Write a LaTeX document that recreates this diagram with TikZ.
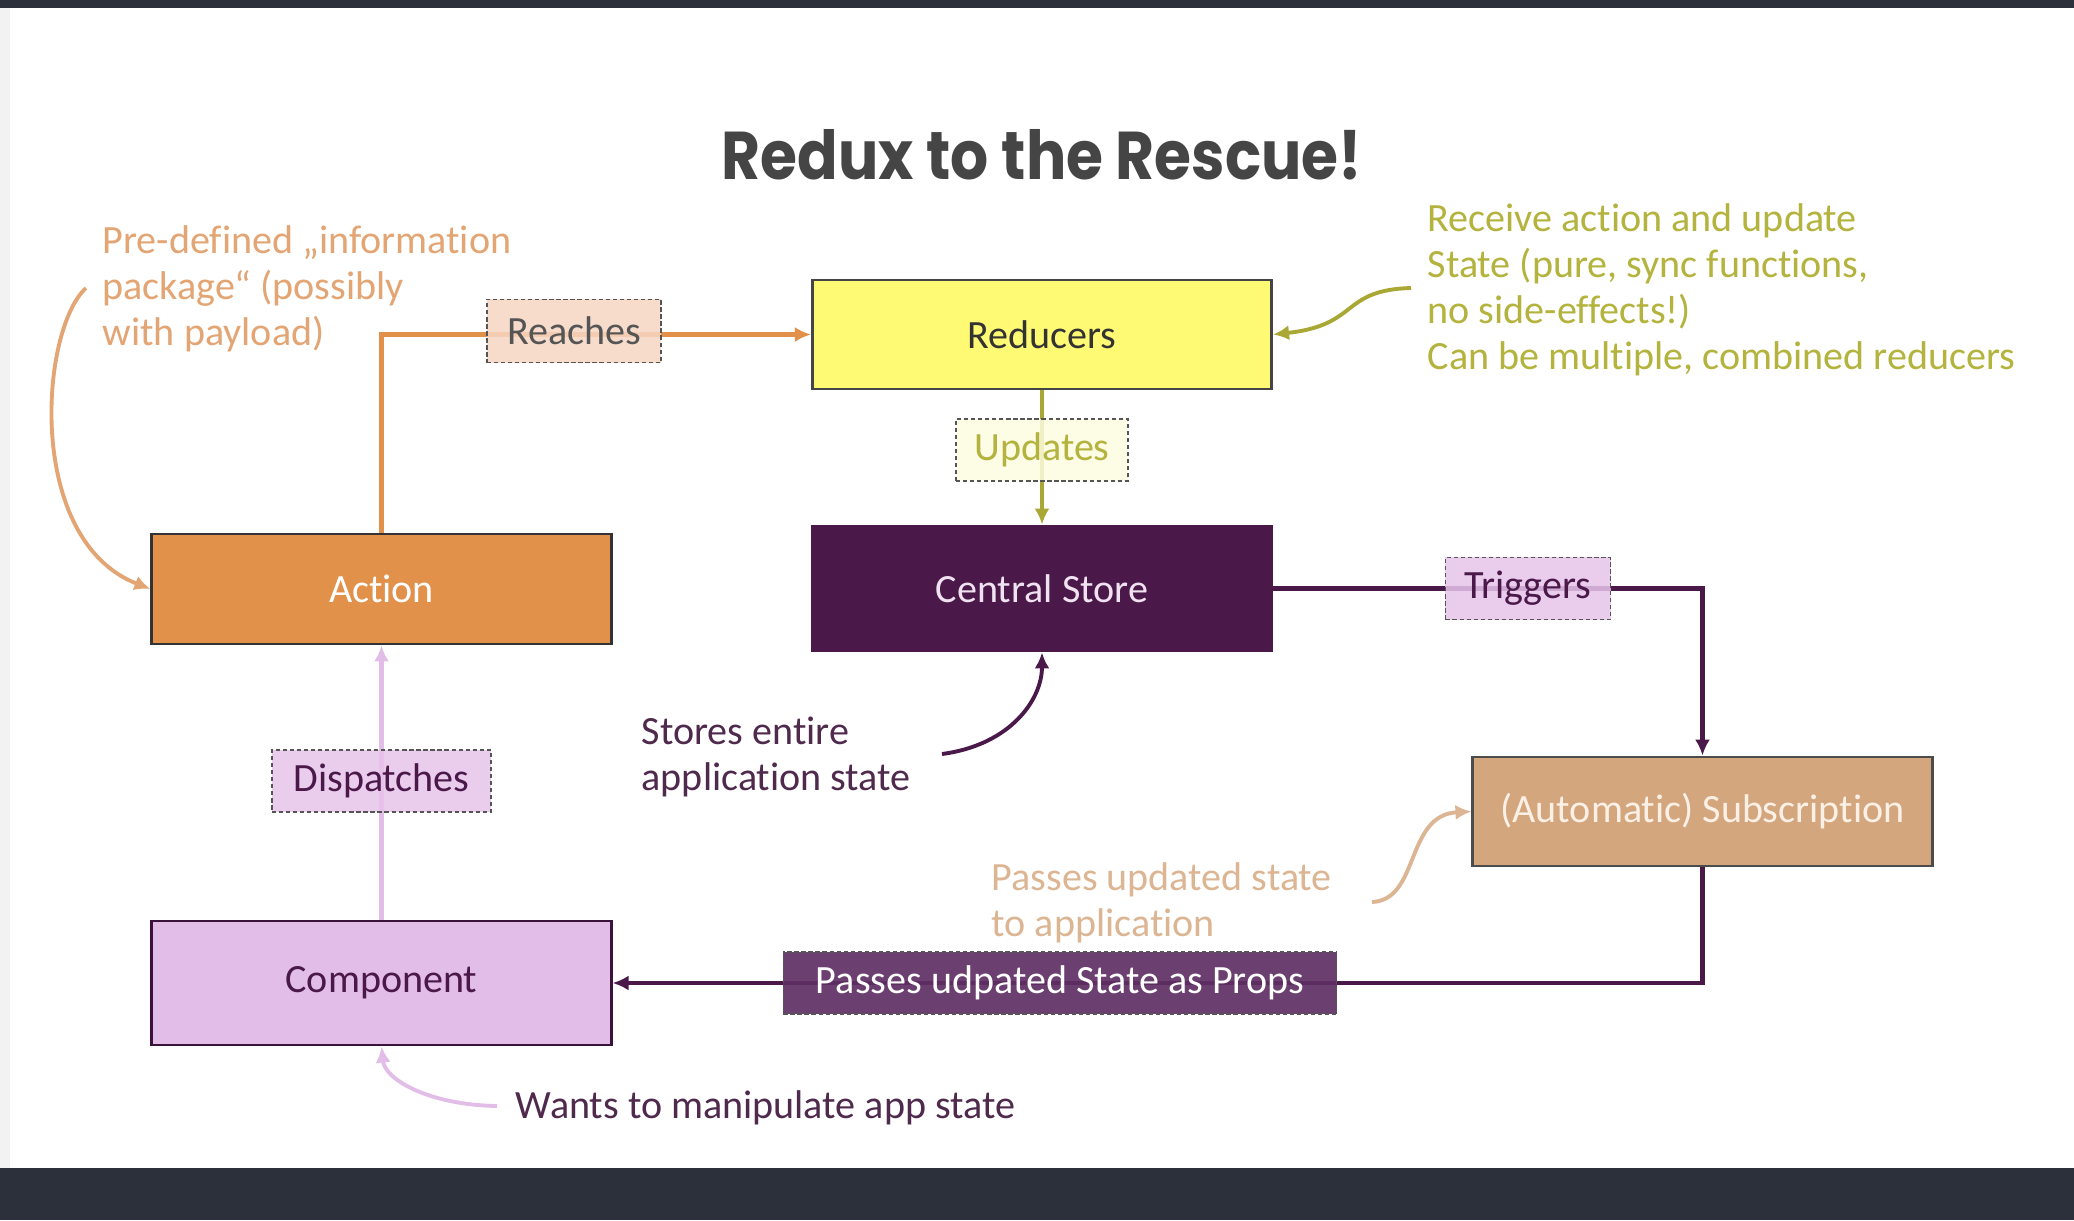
\documentclass[tikz,border=0pt]{standalone}
\usepackage{fontspec}
\setmainfont{Carlito}[Ligatures={NoCommon,NoRequired}]
\newfontfamily\titlefont{Poppins}
\usetikzlibrary{arrows.meta}
\definecolor{barC}{HTML}{2B303A}
\definecolor{stripC}{HTML}{F2F2F3}
\definecolor{titleC}{HTML}{454545}
\definecolor{actionC}{HTML}{E2914B}
\definecolor{reachC}{HTML}{F6D7C3}
\definecolor{redC}{HTML}{FFFA73}
\definecolor{oliveC}{HTML}{A9A834}
\definecolor{oliveT}{HTML}{B3B33E}
\definecolor{updC}{HTML}{FDFCE0}
\definecolor{storeC}{HTML}{4A1849}
\definecolor{storeT}{HTML}{F0E2F0}
\definecolor{subC}{HTML}{D4A67D}
\definecolor{subT}{HTML}{FBF0E6}
\definecolor{compC}{HTML}{E2BDE7}
\definecolor{dispC}{HTML}{E7C4EB}
\definecolor{propsC}{HTML}{5F2F64}
\definecolor{annO}{HTML}{E3A574}
\definecolor{annT}{HTML}{DCB593}
\definecolor{annP}{HTML}{4F2A4D}
\definecolor{labelT}{HTML}{555555}
\tikzset{
  x=0.01cm, y=-0.01cm,
  box/.style={draw=#1, line width=0.8pt, minimum width=4.59cm, inner sep=0pt,
    font=\fontsize{11.4}{13.1}\selectfont},
  lbl/.style={draw=labelT, line width=0.45pt, dash pattern=on 1.2pt off 0.8pt,
    fill opacity=0.85, text opacity=1, inner sep=0pt,
    font=\fontsize{11.4}{13.1}\selectfont},
  conn/.style={line width=1.2pt, -{Latex[length=1.6mm,width=1.5mm]}},
  ann/.style={line width=1.1pt, -{Latex[length=1.6mm,width=1.5mm]}},
  note/.style={align=left, anchor=west, inner sep=0pt,
    font=\fontsize{11.4}{13.1}\selectfont},
}
\begin{document}
\begin{tikzpicture}
% background
\fill[white] (0,0) rectangle (2074,1220);
\useasboundingbox (0,0) rectangle (2074,1220);
\fill[stripC] (0,8) rectangle (10,1168);
\fill[barC] (0,0) rectangle (2074,8);
\fill[barC] (0,1168) rectangle (2074,1220);

% title
\node[inner sep=0pt, text=titleC] (title) at (1042,155)
  {\resizebox{6.4cm}{0.5cm}{\titlefont\bfseries Redux to the Rescue!}};

% main nodes
\node[box=titleC, fill=redC, minimum height=1.09cm, text=black!80] (red) at (1042,334.5) {Reducers};
\node[box=storeC, fill=storeC, minimum height=1.25cm, text=storeT] (store) at (1042,588.5) {Central Store};
\node[box=black!80, fill=actionC, minimum height=1.1cm, text=white] (action) at (381.5,589) {Action};
\node[box=storeC!80!black, fill=compC, minimum height=1.24cm, text=storeC] (comp) at (381.5,983) {Component};
\node[box=black!70, fill=subC, minimum height=1.09cm, text=subT] (sub) at (1702.5,811.5) {(Automatic) Subscription};

% connectors
\draw[conn, draw=actionC] (action.north) |- (red.west);
\draw[conn, draw=oliveC, line width=1.4pt] (red.south) -- (store.north);
\draw[conn, draw=storeC] (store.east) -| (sub.north);
\draw[conn, draw=storeC] (sub.south) |- (comp.east);
\draw[conn, draw=compC] (comp.north) -- (action.south);

% connector labels
\node[lbl, fill=reachC, minimum width=1.74cm, minimum height=0.63cm, text=labelT] (reaches) at (574,331) {Reaches};
\node[lbl, fill=updC, minimum width=1.72cm, minimum height=0.62cm, text=oliveT] (updates) at (1042,450) {Updates};
\node[lbl, fill=dispC, minimum width=1.65cm, minimum height=0.62cm, text=storeC] (triggers) at (1528,588.5) {Triggers};
\node[lbl, fill=propsC, fill opacity=0.92, minimum width=5.53cm, minimum height=0.62cm, text=white] (props) at (1060,983) {Passes udpated State as Props};
\node[lbl, fill=dispC, minimum width=2.19cm, minimum height=0.62cm, text=storeC] (dispatches) at (381.5,781) {Dispatches};

% annotations
\node[note, text=annO] (predef) at (102,289) {Pre-defined „information\\package“ (possibly\\with payload)};
\coordinate (predefS) at (86,288);
\draw[ann, draw=annO] (predefS) .. controls (40,330) and (25,540) .. (action.west);

\node[note, text=oliveT] (receive) at (1427,290) {Receive action and update\\State (pure, sync functions,\\no side-effects!)\\Can be multiple, combined reducers};
\coordinate (receiveS) at (1411,288);
\draw[ann, draw=oliveC] (receiveS) .. controls (1340,290) and (1360,325) .. (red.east);

\node[note, text=annP] (stores) at (641,757) {Stores entire\\application state};
\coordinate (storesS) at (942,754);
\draw[ann, draw=storeC] (storesS) .. controls (1010,745) and (1042,700) .. (store.south);

\node[note, text=annT] (passes) at (991,903) {Passes updated state\\to application};
\coordinate (passesS) at (1372,902);
\draw[ann, draw=annT] (passesS) .. controls (1420,900) and (1405,815) .. (sub.west);

\node[note, text=annP] (wants) at (515,1108) {Wants to manipulate app state};
\coordinate (wantsS) at (497,1106);
\draw[ann, draw=compC] (wantsS) .. controls (430,1105) and (385,1080) .. (comp.south);
\end{tikzpicture}
\end{document}
